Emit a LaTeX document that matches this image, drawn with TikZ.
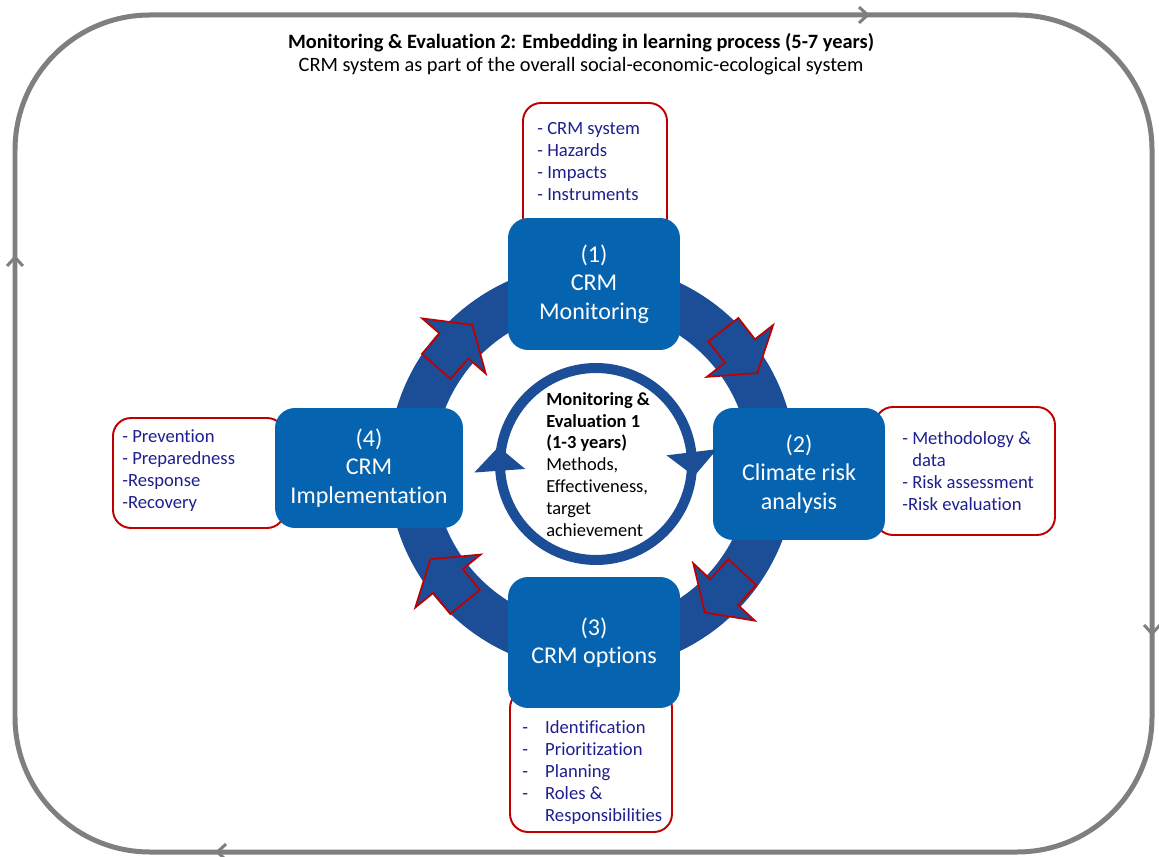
\documentclass[tikz,border=0pt]{standalone}
\usepackage{fontspec}
\setmainfont{Carlito}[Ligatures=NoCommon]
\usetikzlibrary{calc,arrows.meta}
\definecolor{boxblue}{RGB}{5,99,176}
\definecolor{ringblue}{RGB}{28,78,152}
\definecolor{calred}{RGB}{192,0,0}
\definecolor{navytext}{RGB}{31,31,145}
\definecolor{framegray}{RGB}{127,127,127}
\newcommand{\blockarrow}[2]{%
  \draw[blockarr] ($(#1)+(#2+180:27)+(#2+90:19)$) -- ($(#1)+(#2+90:19)$) -- ($(#1)+(#2+90:42)$)
    -- ($(#1)+(#2:28)$) -- ($(#1)+(#2-90:42)$) -- ($(#1)+(#2-90:19)$)
    -- ($(#1)+(#2+180:27)+(#2-90:19)$) -- cycle;}
\newcommand{\dl}{\makebox[13pt][l]{-}}
\begin{document}
\begin{tikzpicture}[x=0.02cm,y=-0.02cm,
  frameline/.style={draw=framegray, line width=0.1cm},
  framearrow/.style={draw=framegray, line width=0.06cm, -{Straight Barb[length=5pt,width=9pt]}},
  blockarr/.style={fill=ringblue, draw=calred, line width=1pt, line join=miter},
  callout/.style={draw=calred, line width=1.1pt, fill=white, rounded corners=0.36cm},
  bluebox/.style={fill=boxblue, rounded corners=0.4cm, text=white, align=center, inner sep=0,
    font=\fontsize{13.7pt}{16.2pt}\selectfont},
  listtext/.style={text=navytext, align=left, inner sep=0, font=\fontsize{10.6pt}{12.6pt}\selectfont},
  centertext/.style={text=black, align=left, inner sep=0, font=\fontsize{10.5pt}{12.4pt}\selectfont},
  titletext/.style={text=black, align=center, inner sep=0, font=\fontsize{11.6pt}{13pt}\selectfont}]
\useasboundingbox (0,0) rectangle (1159,857);
\fill[white] (0,0) rectangle (1159,857);

% outer frame
\draw[frameline, rounded corners=2.7cm] (15,15) rectangle (1152,852);
\coordinate (ta) at (847,15);  \coordinate (tb) at (870,15);
\coordinate (la) at (15,278);  \coordinate (lb) at (15,255);
\coordinate (ra) at (1152,612); \coordinate (rb) at (1152,636);
\coordinate (ba) at (240,852); \coordinate (bb) at (215,852);
\draw[framearrow] (ta) -- (tb);
\draw[framearrow] (la) -- (lb);
\draw[framearrow] (ra) -- (rb);
\draw[framearrow] (ba) -- (bb);

% title
\node[titletext, anchor=north] (title) at (581,33)
  {\textbf{Monitoring \& Evaluation 2: Embedding in learning process (5-7 years)}\\
   CRM system as part of the overall social-economic-ecological system};

% big ring
\coordinate (rc) at (592,467);
\draw[ringblue, line width=0.92cm] (rc) circle[radius=3.62cm];

% block arrows on ring
\coordinate (aTL) at (454,346);
\coordinate (aTR) at (740,351);
\coordinate (aBR) at (724,592);
\coordinate (aBL) at (448,581);
\blockarrow{aTL}{311}
\blockarrow{aTR}{52}
\blockarrow{aBR}{133}
\blockarrow{aBL}{231}

% callouts
\node[callout, minimum width=2.88cm, minimum height=2.74cm] (c1) at (595,171.5) {};
\node[callout, minimum width=3.6cm, minimum height=2.56cm] (c2) at (965,471) {};
\node[callout, minimum width=3.24cm, minimum height=2.84cm] (c3) at (591,761) {};
\node[callout, minimum width=3.44cm, minimum height=2.2cm] (c4) at (199,473) {};

% blue boxes
\node[bluebox, minimum width=3.44cm, minimum height=2.64cm] (b1) at (594,284) {(1)\\CRM\\Monitoring};
\node[bluebox, minimum width=3.44cm, minimum height=2.64cm] (b2) at (799,474) {(2)\\Climate risk\\analysis};
\node[bluebox, minimum width=3.44cm, minimum height=2.62cm] (b3) at (594,642.5) {(3)\\CRM options};
\node[bluebox, minimum width=3.76cm, minimum height=2.4cm] (b4) at (369,468) {(4)\\CRM\\Implementation};

% callout texts
\node[listtext, anchor=north west] (t1) at (537,122) {- CRM system\\- Hazards\\- Impacts\\- Instruments};
\node[listtext, anchor=north west] (t2) at (902,431) {- Methodology \&\\\hphantom{- }data\\- Risk assessment\\-Risk evaluation};
\node[listtext, anchor=north west] (t3) at (522,720) {\dl Identification\\\dl Prioritization\\\dl Planning\\\dl Roles \&\\\makebox[13pt]{}Responsibilities};
\node[listtext, anchor=north west] (t4) at (122,429) {- Prevention\\- Preparedness\\-Response\\-Recovery};

% inner circle
\coordinate (ic) at (596,464);
\draw[ringblue, line width=0.2cm] (ic) circle[radius=1.92cm];
\fill[ringblue] ($(ic)+(353:71)$) -- ($(ic)+(353:122)$) -- ($(ic)+(353:96)+(83:24)$) -- cycle;
\fill[ringblue] ($(ic)+(176:71)$) -- ($(ic)+(176:122)$) -- ($(ic)+(176:96)+(266:24)$) -- cycle;

\node[centertext, anchor=north west] (ct) at (546,392)
  {\textbf{Monitoring \&}\\\textbf{Evaluation 1}\\\textbf{(1-3 years)}\\Methods,\\Effectiveness,\\target\\achievement};
\end{tikzpicture}
\end{document}
